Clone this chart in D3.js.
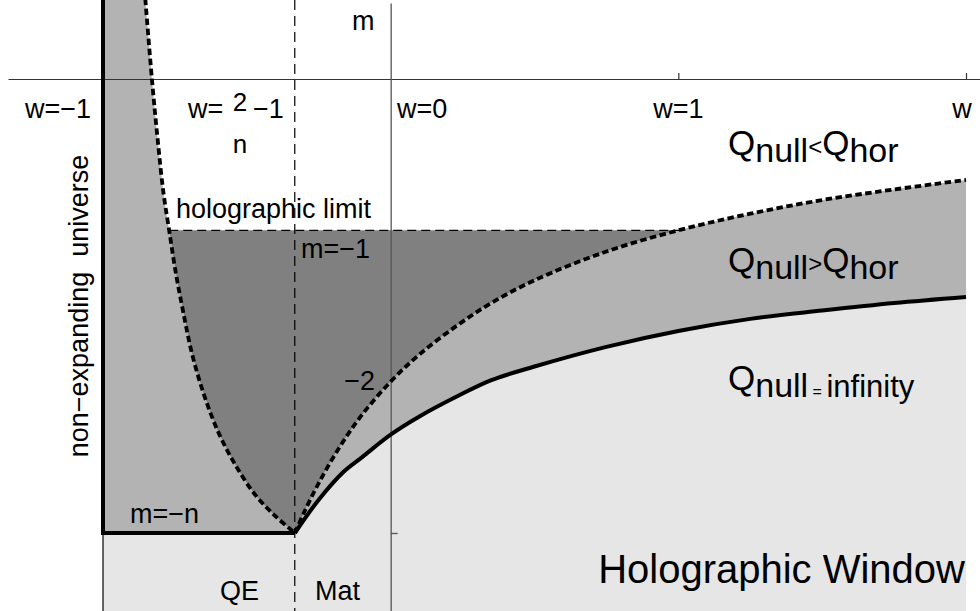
<!DOCTYPE html>
<html><head><meta charset="utf-8">
<script src="https://cdn.jsdelivr.net/npm/d3@7"></script>
<style>
html,body{margin:0;padding:0;background:#fff;}
svg text{font-family:"Liberation Sans",Arial,Helvetica,sans-serif;fill:#000;}
</style></head>
<body><svg id="c" width="980" height="611"></svg>
<script>
// ---- data (w, m), n = 3 ----
const nullHorLeft = [[-0.853,0.53],[-0.830,0.0],[-0.810,-0.40],[-0.790,-0.75],[-0.770,-1.00],[-0.747,-1.28],[-0.720,-1.55],[-0.690,-1.82],[-0.650,-2.08],[-0.600,-2.33],[-0.540,-2.55],[-0.470,-2.75],[-0.400,-2.89],[-0.333,-3.00]];
const nullHorRight = [[-0.333,-3.0],[-0.30,-2.86],[-0.25,-2.67],[-0.18,-2.44],[-0.10,-2.22],[0,-2.0],[0.1,-1.82],[0.23,-1.63],[0.35,-1.48],[0.5,-1.33],[0.75,-1.14],[1.0,-1.0],[1.25,-0.89],[1.5,-0.8],[1.75,-0.73],[2.0,-0.667]];
const nullInfinity = [[-0.333,-3.0],[-0.25,-2.78],[-0.166,-2.60],[-0.1,-2.50],[0,-2.35],[0.1,-2.23],[0.228,-2.10],[0.35,-1.99],[0.5,-1.90],[0.75,-1.77],[1.0,-1.665],[1.25,-1.585],[1.5,-1.53],[1.75,-1.48],[2.0,-1.44]];
const nValue = 3;
const wQE = 2/nValue - 1;        // w = 2/n - 1
const holoLimit = -1;            // m = -1
const xTicks = [1, 2];
const yTicks = [-3];
const xTickLabels = ["w=\u22121", "w=0", "w=1", "w"];
const yTickLabels = ["m=\u22121", "\u22122"];

// ---- scales ----
const svg = d3.select("#c");
const x = d3.scaleLinear().domain([-1, 2]).range([103, 966]);
const y = d3.scaleLinear().domain([0, -3]).range([79, 533]);
const wMin = -1, wMax = 2;
const mBot = y.invert(611);

const line = d3.line().x(d => x(d[0])).y(d => y(d[1]));
const smooth = d3.line().x(d => x(d[0])).y(d => y(d[1])).curve(d3.curveCatmullRom.alpha(0.5));

const GL = "#e6e6e6", GM = "#b3b3b3", GD = "#808080";

function sample(pts){
  const p = document.createElementNS("http://www.w3.org/2000/svg","path");
  p.setAttribute("d", smooth(pts));
  svg.node().appendChild(p);
  const L = p.getTotalLength(), out = [];
  for (let i=0;i<=200;i++){ const q = p.getPointAtLength(L*i/200); out.push([q.x,q.y]); }
  p.remove();
  return out;
}
const leftPx = sample(nullHorLeft);
const rightPx = sample(nullHorRight);
const solidPx = sample(nullInfinity);
const poly = pts => "M" + pts.map(p => p.join(",")).join("L") + "Z";

// light region: below solid curve and m = -n
svg.append("path").attr("d", poly([[x(wMin), y(-nValue)], ...solidPx, [x(wMax), 611], [x(wMin), 611]])).attr("fill", GL);

// medium region
const mid = [
  [x(wMin), 0], [leftPx[0][0], 0], ...leftPx, ...rightPx,
  [x(wMax), y(nullInfinity[nullInfinity.length-1][1])],
  ...solidPx.slice().reverse(),
  [x(wMin), y(-nValue)]
];
svg.append("path").attr("d", poly(mid)).attr("fill", GM);

// dark region: above dashed curves, below holographic limit
svg.append("clipPath").attr("id","holo").append("rect")
  .attr("x", 0).attr("y", y(holoLimit)).attr("width", 980).attr("height", 611 - y(holoLimit));
const above = [[leftPx[0][0], 0], ...leftPx, ...rightPx, [x(wMax), 0]];
svg.append("path").attr("d", poly(above)).attr("fill", GD).attr("clip-path", "url(#holo)");

// ---- axes ----
const xAxisScale = x.copy().domain([x.invert(8), x.invert(980)]).range([8, 980]);
svg.append("g").attr("transform", `translate(0,${y(0)})`)
  .call(d3.axisTop(xAxisScale).tickValues(xTicks).tickSize(6).tickSizeOuter(0).tickFormat(() => ""))
  .call(g => g.selectAll("path,line").attr("stroke", "#333").attr("stroke-width", 1.2));
const yAxisScale = y.copy().domain([y.invert(3), mBot]).range([3, 611]);
svg.append("g").attr("transform", `translate(${x(0)},0)`)
  .call(d3.axisRight(yAxisScale).tickValues(yTicks).tickSize(7).tickSizeOuter(0).tickFormat(() => ""))
  .call(g => g.selectAll("path,line").attr("stroke", "#555").attr("stroke-width", 1.3));

// vertical dashed w = 2/n - 1
svg.append("line").attr("x1", x(wQE)).attr("x2", x(wQE)).attr("y1", 0).attr("y2", 611)
  .attr("stroke", "#000").attr("stroke-width", 1.2).attr("stroke-dasharray", "10,6");
// holographic limit dashed
const hx1 = leftPx.find(p => p[1] >= y(holoLimit))[0];
const hx2 = rightPx.find(p => p[1] <= y(holoLimit))[0];
svg.append("line").attr("x1", hx1).attr("x2", hx2).attr("y1", y(holoLimit)).attr("y2", y(holoLimit))
  .attr("stroke", "#000").attr("stroke-width", 1.3).attr("stroke-dasharray", "9,5");

// thin border below m=-n at w=-1
svg.append("line").attr("x1", x(wMin)).attr("x2", x(wMin)).attr("y1", y(-nValue)).attr("y2", 611)
  .attr("stroke", "#333").attr("stroke-width", 1.5);
// thick w=-1 line and m=-n line + solid curve
svg.append("path").attr("d", line([[wMin, y.invert(0)], [wMin, -nValue], [wQE, -nValue]]))
  .attr("fill", "none").attr("stroke", "#000").attr("stroke-width", 4);
svg.append("path").attr("d", smooth(nullInfinity)).attr("fill", "none").attr("stroke", "#000").attr("stroke-width", 4);
// dashed curves
svg.append("path").attr("d", smooth(nullHorLeft)).attr("fill", "none").attr("stroke", "#000")
  .attr("stroke-width", 3.8).attr("stroke-dasharray", "6.5,3.5");
svg.append("path").attr("d", smooth(nullHorRight)).attr("fill", "none").attr("stroke", "#000")
  .attr("stroke-width", 3.8).attr("stroke-dasharray", "6.5,3.5");

// ---- text ----
function txt(s, px, py, size, anchor){
  return svg.append("text").attr("x", px).attr("y", py).attr("font-size", size)
    .attr("text-anchor", anchor || "start").text(s);
}
txt("m", 352, 30, 27);
txt(xTickLabels[0], 25, 118, 27);
txt("w=", 188, 118, 27);
txt("2", 240, 111, 26, "middle");
txt("n", 240, 153, 26, "middle");
txt("\u22121", 253, 118, 27);
txt(xTickLabels[1], 397, 118, 27);
txt(xTickLabels[2], x(1), 118, 27, "middle");
txt(xTickLabels[3], x(2) - 4, 118, 27, "middle");

txt("holographic limit", 176, 218, 27);
txt(yTickLabels[0], 301, 258, 27);
txt(yTickLabels[1], 375, 390, 27, "end");
txt("m=\u2212n", 130, 523, 27);
txt("QE", 220, 600, 27);
txt("Mat", 315, 600, 27);
txt("Holographic Window", 965, 583, 40, "end");

svg.append("text").attr("transform", "translate(88,306) rotate(-90)")
  .attr("text-anchor", "middle").attr("font-size", 27).text("non\u2212expanding\u00a0\u00a0universe");

function qlabel(px, py, rel, rhs, rhsSub){
  const t = svg.append("text").attr("x", px).attr("y", py);
  t.append("tspan").attr("font-size", 35).text("Q");
  t.append("tspan").attr("font-size", 34).attr("dy", 7).text("null");
  if (rhs) {
    t.append("tspan").attr("font-size", 24).attr("dy", -7).text(rel);
    t.append("tspan").attr("font-size", 35).text(rhs);
    t.append("tspan").attr("font-size", 34).attr("dy", 7).text(rhsSub);
  } else {
    t.append("tspan").attr("font-size", 16).text("\u00a0=\u00a0");
    t.append("tspan").attr("font-size", 31).text(rel);
  }
}
qlabel(728, 155, "<", "Q", "hor");
qlabel(728, 272, ">", "Q", "hor");
qlabel(728, 390, "infinity");
</script></body></html>
